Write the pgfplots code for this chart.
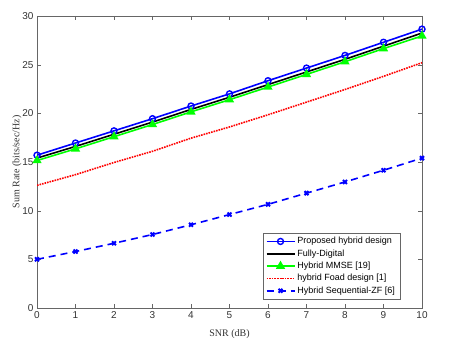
\documentclass[border=0pt]{standalone}
\usepackage{fontspec}
\setmainfont{Liberation Serif}
\newfontfamily\arialfont{Liberation Sans}
\usepackage{pgfplots}
\pgfplotsset{compat=1.18}

\begin{document}
\begin{tikzpicture}
  \begin{axis}[
    scale only axis,
    width=385pt, height=292pt,
    xmin=0, xmax=10, ymin=0, ymax=30,
    xtick={0,1,...,10},
    ytick={0,5,...,30},
    tick align=inside,
    major tick length=4pt,
    axis line style={gray!80!black},
    tick style={gray!80!black},
    ticklabel style={font=\arialfont\fontsize{10}{11}\selectfont, text=black!80},
    /pgf/number format/assume math mode=true,
    xlabel={SNR (dB)},
    ylabel={Sum Rate (bits/sec/Hz)},
    label style={font=\fontsize{10}{11}\selectfont, text=black!80},
    xlabel style={yshift=-4pt},
    ylabel style={yshift=-6pt},
    legend style={
      at={(0.943,0.031)}, anchor=south east,
      font=\arialfont\fontsize{9}{10}\selectfont,
      draw=gray!80!black, row sep=0.3pt,
      inner xsep=3pt, inner ysep=2pt
    },
    legend cell align=left,
    legend image code/.code={
      \draw[mark repeat=2, mark phase=2, #1]
        plot coordinates {(0pt,0pt) (14pt,0pt) (28pt,0pt)};
    },
  ]
    % Proposed hybrid design
    \addplot[blue, line width=1.6pt, mark=o, mark size=3pt,
             mark options={line width=1.4pt}] coordinates {
      (0,15.7) (1,16.95) (2,18.2) (3,19.45) (4,20.75) (5,22.0)
      (6,23.35) (7,24.65) (8,25.95) (9,27.3) (10,28.65)
    };
    % Fully digital
    \addplot[black, line width=1.6pt] coordinates {
      (0,15.4) (1,16.6) (2,17.85) (3,19.1) (4,20.4) (5,21.65)
      (6,22.95) (7,24.25) (8,25.55) (9,26.9) (10,28.25)
    };
    % Hybrid MMSE
    \addplot[green, line width=1.6pt, mark=triangle*, mark size=3.8pt] coordinates {
      (0,15.15) (1,16.35) (2,17.6) (3,18.85) (4,20.15) (5,21.4)
      (6,22.7) (7,24.0) (8,25.3) (9,26.65) (10,27.95)
    };
    % hybrid Foad design
    \addplot[red, line width=1.6pt, densely dotted] coordinates {
      (0,12.6) (1,13.7) (2,14.95) (3,16.1) (4,17.45) (5,18.6)
      (6,19.85) (7,21.15) (8,22.45) (9,23.8) (10,25.2)
    };
    % Hybrid Sequential-ZF
    \addplot[blue, line width=1.6pt, dash pattern=on 7pt off 5pt,
             mark=x, mark size=2.8pt, mark options={solid, line width=2pt}] coordinates {
      (0,5.0) (1,5.8) (2,6.65) (3,7.55) (4,8.55) (5,9.6)
      (6,10.65) (7,11.8) (8,12.95) (9,14.15) (10,15.4)
    };
    \legend{Proposed hybrid design, Fully-Digital, Hybrid MMSE [19],
            hybrid Foad design [1], Hybrid Sequential-ZF [6]}
  \end{axis}
  \path[use as bounding box] ([shift={(-37pt,-39pt)}]current axis.south west)
    rectangle ([shift={(27pt,16pt)}]current axis.north east);
\end{tikzpicture}
\end{document}
